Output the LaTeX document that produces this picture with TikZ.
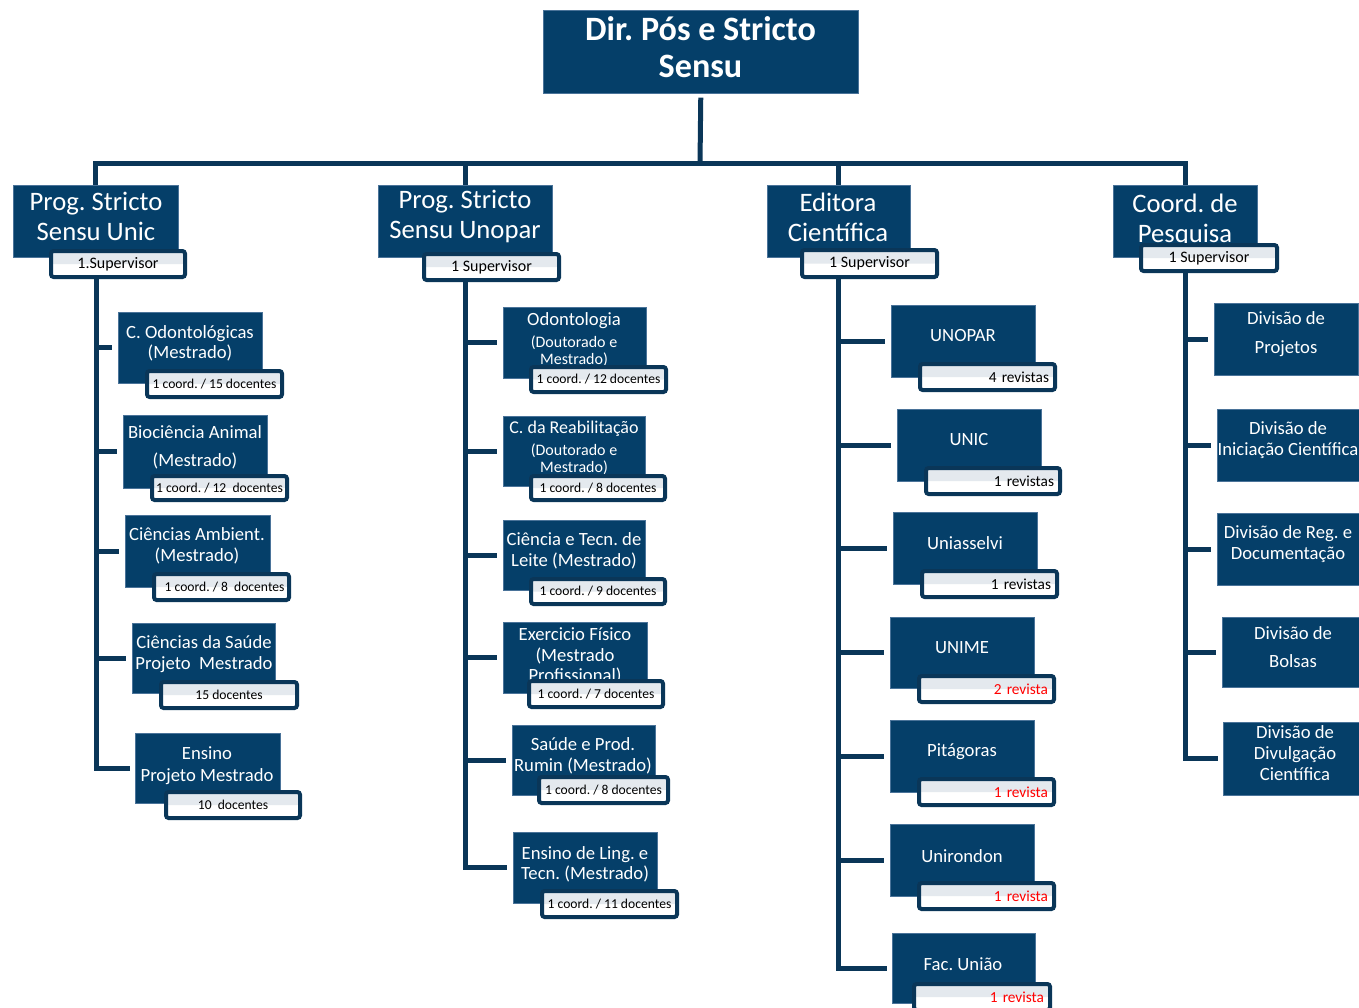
\documentclass[tikz,border=0pt]{standalone}
\usepackage{fontspec}
\setmainfont{Carlito}
\frenchspacing
\definecolor{boxblue}{HTML}{053F69}
\definecolor{boxedge}{HTML}{4A7399}
\definecolor{linecol}{HTML}{0A3658}
\definecolor{labgray}{HTML}{E4E9EE}
\definecolor{revred}{HTML}{FF0000}
\def\PX{*0.75pt}
\newcommand\FS[2]{\fontsize{#1}{#2}\selectfont}
\pgfdeclarelayer{background}
\pgfsetlayers{background,main}
\tikzset{
  box/.style={draw=boxedge, line width=0.4pt, fill=boxblue, inner sep=0pt, anchor=north west},
  lab/.style={draw=linecol, line width=3pt, rounded corners=2pt, fill=white, inner sep=0pt,
    anchor=north west, font=\FS{10.2}{12}, text=black,
    path picture={\fill[labgray] (path picture bounding box.north west) rectangle (path picture bounding box.east);}},
  txt/.style={text=white, align=center, inner sep=0pt},
  conn/.style={draw=linecol, line width=5\PX},
}
\newcommand\Bx[5]{\node[box, minimum width={(#4-#2)\PX}, minimum height={(#5-#3)\PX}] (#1) at (#2,#3) {};}
\newcommand\Lb[7][]{\node[lab, minimum width={(#5-#3-4)\PX}, minimum height={(#6-#4-4)\PX}, #1] (#2) at ({#3+2},{#4+2}) {#7};}
\newcommand\Lr[7][]{\node[lab, minimum width={(#5-#3-4)\PX}, minimum height={(#6-#4-4)\PX}, text width={(#5-#3-16)\PX}, align=right, font=\FS{11.5}{13}, #1] (#2) at ({#3+2},{#4+2}) {#7};}
\begin{document}
\begin{tikzpicture}[x=0.75pt,y=-0.75pt]
\useasboundingbox (0,0) rectangle (1359,1007);

% top
\Bx{top}{543}{10}{858}{93}
\node[txt, font=\FS{25.6}{27.75}\bfseries] (topt) at (700.5,47) {Dir. Pós e Stricto\\Sensu};

% headers
\Bx{h1}{13}{185}{178}{257}
\node[txt, font=\FS{20}{22.5}] (h1t) at (96,216) {Prog. Stricto\\Sensu Unic};
\Lb[font=\FS{12}{13}]{l1}{47}{247}{185}{277}{1.Supervisor}
\Bx{h2}{378}{185}{552}{257}
\node[txt, font=\FS{20}{22.5}] (h2t) at (465,216) {Prog. Stricto\\Sensu Unopar};
\Lb[font=\FS{12}{13}]{l2}{420}{250}{559}{280}{1 Supervisor}
\Bx{h3}{767}{185}{910}{257}
\node[txt, font=\FS{20}{22.5}] (h3t) at (838,217) {Editora\\Científica};
\Lb[font=\FS{12}{13}]{l3}{798}{246}{937}{277}{1 Supervisor}
\Bx{h4}{1113}{185}{1257}{257}
\node[txt, font=\FS{20}{22.5}] (h4t) at (1185,220) {Coord. de\\Pesquisa};
\Lb[font=\FS{12}{13}]{l4}{1137}{241}{1277}{271}{1 Supervisor}

% column 1
\Bx{b11}{118}{312}{262}{383}
\node[txt, font=\FS{14}{15}] (b11t) at (190,343) {C. Odontológicas\\(Mestrado)};
\Lb{l11}{143}{367}{282}{397}{1 coord. / 15 docentes}
\Bx{b12}{123}{415}{267}{488}
\node[txt, font=\FS{14}{21}] (b12t) at (195,447) {Biociência Animal\\(Mestrado)};
\Lb{l12}{148}{472}{287}{500}{1 coord. / 12\ \ docentes}
\Bx{b13}{125}{515}{270}{587}
\node[txt, font=\FS{14}{15.75}] (b13t) at (197,546) {Ciências Ambient.\\(Mestrado)};
\Lb{l13}{150}{570}{289}{600}{\ \ 1 coord. / 8\ \ docentes}
\Bx{b14}{132}{623}{275}{693}
\node[txt, font=\FS{14}{15.75}] (b14t) at (204,654) {Ciências da Saúde\\Projeto\ \ Mestrado};
\Lb{l14}{157}{678}{297}{708}{15 docentes}
\Bx{b15}{135}{733}{280}{803}
\node[txt, font=\FS{14}{16.5}] (b15t) at (207,766) {Ensino\\Projeto Mestrado};
\Lb{l15}{162}{788}{300}{818}{10\ \ docentes}

% column 2
\Bx{b21}{503}{307}{646}{378}
\node[txt, font=\FS{14}{15}] (b21a) at (574,321) {Odontologia};
\node[txt, font=\FS{12}{12.75}] (b21b) at (574,351) {(Doutorado e\\Mestrado)};
\Lb{l21}{527}{363}{666}{392}{1 coord. / 12 docentes}
\Bx{b22}{503}{416}{645}{486}
\node[txt, font=\FS{13.5}{15}] (b22a) at (574,429) {C. da Reabilitação};
\node[txt, font=\FS{12}{12.75}] (b22b) at (574,459) {(Doutorado e\\Mestrado)};
\Lb{l22}{527}{472}{665}{500}{1 coord. / 8 docentes}
\Bx{b23}{503}{520}{645}{590}
\node[txt, font=\FS{14}{15.75}] (b23t) at (574,551) {Ciência e Tecn. de\\Leite (Mestrado)};
\Lb{l23}{527}{575}{665}{604}{1 coord. / 9 docentes}
\Bx{b24}{503}{622}{647}{693}
\node[txt, font=\FS{14}{15.4}] (b24t) at (575,656) {Exercicio Físico\\(Mestrado\\Profissional)};
\Lb{l24}{525}{677}{663}{707}{1 coord. / 7 docentes}
\Bx{b25}{512}{725}{655}{795}
\node[txt, font=\FS{14}{15.75}] (b25t) at (583,756) {Saúde e Prod.\\Rumin (Mestrado)};
\Lb{l25}{535}{773}{668}{803}{1 coord. / 8 docentes}
\Bx{b26}{513}{832}{657}{903}
\node[txt, font=\FS{14}{15}] (b26t) at (585,864) {Ensino de Ling. e\\Tecn. (Mestrado)};
\Lb{l26}{538}{887}{677}{917}{1 coord. / 11 docentes}

% column 3
\Bx{b31}{891}{305}{1035}{377}
\node[txt, font=\FS{14}{15}] (b31t) at (963,336) {UNOPAR};
\Lr{l31}{916}{360}{1055}{390}{4 revistas}
\Bx{b32}{897}{409}{1041}{481}
\node[txt, font=\FS{14}{15}] (b32t) at (969,440) {UNIC};
\Lr{l32}{922}{464}{1060}{494}{1 revistas}
\Bx{b33}{893}{512}{1037}{584}
\node[txt, font=\FS{14}{15}] (b33t) at (965,543) {Uniasselvi};
\Lr{l33}{918}{567}{1057}{597}{1 revistas}
\Bx{b34}{890}{617}{1034}{688}
\node[txt, font=\FS{14}{15}] (b34t) at (962,648) {UNIME};
\Lr[text=revred]{l34}{915}{672}{1054}{702}{2 revista}
\Bx{b35}{890}{720}{1034}{792}
\node[txt, font=\FS{14}{15}] (b35t) at (962,752) {Pitágoras};
\Lr[text=revred]{l35}{915}{775}{1054}{805}{1 revista}
\Bx{b36}{890}{824}{1034}{896}
\node[txt, font=\FS{14}{15}] (b36t) at (962,856) {Unirondon};
\Lr[text=revred]{l36}{915}{879}{1054}{909}{1 revista}
\Bx{b37}{892}{933}{1035}{1003}
\node[txt, font=\FS{14}{15}] (b37t) at (963,964) {Fac. União};
\Lr[text=revred]{l37}{910}{980}{1050}{1010}{1 revista}

% column 4
\Bx{b41}{1214}{303}{1358}{375}
\node[txt, font=\FS{14}{21.75}] (b41t) at (1286,334) {Divisão de\\Projetos};
\Bx{b42}{1217}{409}{1360}{481}
\node[txt, font=\FS{14}{15.75}] (b42t) at (1288,440) {Divisão de\\Iniciação Científica};
\Bx{b43}{1217}{513}{1360}{585}
\node[txt, font=\FS{14}{15.75}] (b43t) at (1288,544) {Divisão de Reg. e\\Documentação};
\Bx{b44}{1222}{617}{1360}{687}
\node[txt, font=\FS{14}{21}] (b44t) at (1293,647) {Divisão de\\Bolsas};
\Bx{b45}{1223}{722}{1360}{795}
\node[txt, font=\FS{14}{15.75}] (b45t) at (1295,753) {Divisão de\\Divulgação\\Científica};

% connectors
\begin{pgfonlayer}{background}
\coordinate (bus) at (700,163);
\draw[conn] ([yshift=-4\PX]top.south) -- (bus);
\draw[conn] (h1.north) -- (h1.north |- bus) -- (h4.north |- bus) -- (h4.north);
\draw[conn] (h2.north) -- (h2.north |- bus);
\draw[conn] (h3.north) -- (h3.north |- bus);
\coordinate (t1) at ([xshift=1\PX]l1.south -| h1.south);
\coordinate (t2) at (l2.south -| h2.south);
\coordinate (t3) at (l3.south -| h3.south);
\coordinate (t4) at (l4.south -| h4.south);
\draw[conn] (t1) |- ([xshift=-5\PX]b15.west);
\foreach \b in {b11,b12,b13,b14} \draw[conn] (\b.west -| t1) -- ([xshift=-6\PX]\b.west);
\draw[conn] (t2) |- ([xshift=-6\PX]b26.west);
\foreach \b in {b21,b22,b23,b24,b25} \draw[conn] (\b.west -| t2) -- ([xshift=-6\PX]\b.west);
\draw[conn] (t3) |- ([xshift=-5\PX]b37.west);
\foreach \b in {b31,b32,b33,b34,b35,b36} \draw[conn] (\b.west -| t3) -- ([xshift=-6\PX]\b.west);
\draw[conn] (t4) |- ([xshift=-5\PX]b45.west);
\foreach \b in {b41,b42,b43,b44} \draw[conn] (\b.west -| t4) -- ([xshift=-6\PX]\b.west);
\end{pgfonlayer}
\end{tikzpicture}
\end{document}
